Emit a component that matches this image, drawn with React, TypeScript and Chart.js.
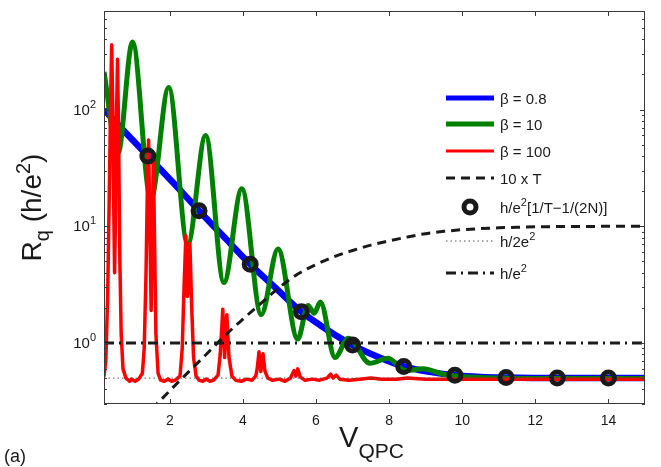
import React, { useEffect, useRef } from "react";
import { Chart, registerables } from "chart.js";

Chart.register(...registerables);

// ---------- data ----------
const X_MIN = 0.2;
const X_MAX = 15;
const Y_MIN = 0.3;
const Y_MAX = 700;

const xTicks = [2, 4, 6, 8, 10, 12, 14];
const yMajorTicks = [1, 10, 100];
const yMajorExp = ["0", "1", "2"];
const yMinorTicks = [0.3, 0.4, 0.5, 0.6, 0.7, 0.8, 0.9, 2, 3, 4, 5, 6, 7, 8, 9, 20, 30, 40, 50, 60, 70, 80, 90, 200, 300, 400, 500, 600];

// beta = 0.8
const blueV = [0.2, 0.8, 1.4, 2.1, 2.8, 3.5, 4.2, 4.9, 5.6, 6.3, 7.0, 7.7, 8.4, 9.1, 9.8, 10.5, 11.2, 12.6, 14.0, 15.0];
const blueR = [100, 63, 40, 23.5, 13.6, 8.0, 4.73, 2.95, 1.85, 1.3, 0.96, 0.76, 0.63, 0.565, 0.53, 0.512, 0.505, 0.5, 0.5, 0.5];

// beta = 10
const greenV = [0.2, 0.58, 0.98, 1.48, 1.97, 2.49, 2.98, 3.48, 3.97, 4.5, 4.96, 5.5, 5.78, 5.95, 6.12, 6.52, 6.88, 7.48, 7.97, 8.44, 8.93, 9.48, 10.2, 11.0, 12.0, 13.0, 14.0, 15.0];
const greenR = [210, 42, 380, 17, 155, 7.0, 60, 3.3, 21, 1.75, 6.4, 1.08, 2.1, 1.8, 2.25, 0.75, 1.1, 0.67, 0.74, 0.58, 0.6, 0.54, 0.51, 0.5, 0.495, 0.495, 0.495, 0.495];

// beta = 100
const redV = [
  0.2, 0.25, 0.3, 0.34, 0.38, 0.41, 0.44, 0.47, 0.49, 0.51, 0.54, 0.57, 0.6, 0.63, 0.67, 0.72, 0.8, 0.9, 0.95, 1.05, 1.15, 1.25,
  1.3, 1.35, 1.39, 1.42, 1.45, 1.49, 1.52, 1.55, 1.58, 1.62, 1.68, 1.75, 1.85, 1.95, 2.05, 2.15, 2.28,
  2.34, 2.39, 2.44, 2.48, 2.51, 2.55, 2.6, 2.65, 2.72, 2.8, 2.9, 3.0, 3.1, 3.2, 3.32,
  3.38, 3.45, 3.5, 3.56, 3.62, 3.7, 3.8, 3.95, 4.1, 4.25, 4.35,
  4.39, 4.44, 4.49, 4.55, 4.6, 4.68, 4.8, 5.0, 5.15, 5.3,
  5.4, 5.45, 5.5, 5.57, 5.7, 5.9, 6.1, 6.3,
  6.4, 6.47, 6.55, 6.65, 6.9, 7.2, 7.5, 7.8, 8.2, 8.5, 9.0, 10.0, 12.0, 15.0,
];
const redR = [
  0.52, 0.7, 2.5, 15, 110, 360, 100, 12, 4, 10, 80, 270, 60, 6, 1.2, 0.6, 0.5, 0.47, 0.49, 0.47, 0.49, 0.55,
  0.9, 4, 25, 55, 12, 1.9, 8, 38, 9, 1.2, 0.55, 0.48, 0.47, 0.49, 0.47, 0.48, 0.52,
  0.9, 3, 8.3, 2.5, 2.8, 7.1, 2, 0.75, 0.52, 0.48, 0.47, 0.49, 0.47, 0.48, 0.53,
  0.8, 1.95, 0.75, 1.75, 0.75, 0.52, 0.48, 0.47, 0.49, 0.48, 0.52,
  0.6, 0.84, 0.57, 0.81, 0.58, 0.5, 0.48, 0.49, 0.47, 0.5,
  0.58, 0.52, 0.6, 0.51, 0.48, 0.49, 0.48, 0.5,
  0.54, 0.5, 0.53, 0.49, 0.48, 0.49, 0.5, 0.49, 0.49, 0.5, 0.49, 0.49, 0.49, 0.49,
];

// 10 x T
const tenTV = [1.5, 2, 2.5, 3, 3.5, 4, 4.5, 5, 5.5, 6, 6.5, 7, 7.5, 8, 8.5, 9, 9.5, 10, 10.5, 11, 11.5, 12, 13, 14, 15];
const tenTR = [0.27, 0.39, 0.56, 0.8, 1.15, 1.6, 2.2, 3.0, 3.9, 4.7, 5.5, 6.2, 6.9, 7.5, 8.1, 8.65, 9.05, 9.35, 9.55, 9.7, 9.82, 9.9, 9.96, 9.99, 10];

// h/e^2[1/T - 1/(2N)] markers
const circleV = [1.4, 2.8, 4.2, 5.6, 7.0, 8.4, 9.8, 11.2, 12.6, 14.0];
const circleR = [40, 13.6, 4.73, 1.85, 0.96, 0.63, 0.53, 0.505, 0.5, 0.5];

// reference levels
const halfLevel = 0.5; // h/2e^2
const fullLevel = 1; // h/e^2

const COLORS = { blue: "#0000ff", green: "#008000", red: "#ff0000", black: "#1a1a1a" };
const FONT = '"Liberation Sans", Arial, Helvetica, sans-serif';

type Seg = { t: string; k?: "sup" | "sub" };

function segsWidth(ctx: CanvasRenderingContext2D, segs: Seg[], size: number, small: number) {
  let w = 0;
  for (const s of segs) {
    ctx.font = `${s.k ? small : size}px ${FONT}`;
    w += ctx.measureText(s.t).width;
  }
  return w;
}

function drawSegs(ctx: CanvasRenderingContext2D, segs: Seg[], x: number, y: number, size: number, small: number, rise: number, drop: number) {
  let cx = x;
  for (const s of segs) {
    ctx.font = `${s.k ? small : size}px ${FONT}`;
    const dy = s.k === "sup" ? -rise : s.k === "sub" ? drop : 0;
    ctx.fillText(s.t, cx, y + dy);
    cx += ctx.measureText(s.t).width;
  }
  return cx;
}

const legendRows: { label: Seg[]; kind: string }[] = [
  { label: [{ t: "β = 0.8" }], kind: "blue" },
  { label: [{ t: "β = 10" }], kind: "green" },
  { label: [{ t: "β = 100" }], kind: "red" },
  { label: [{ t: "10 x T" }], kind: "dash" },
  { label: [{ t: "h/e" }, { t: "2", k: "sup" }, { t: "[1/T−1/(2N)]" }], kind: "circle" },
  { label: [{ t: "h/2e" }, { t: "2", k: "sup" }], kind: "dot" },
  { label: [{ t: "h/e" }, { t: "2", k: "sup" }], kind: "dashdot" },
];
const legendRowY = [98, 124, 151, 178, 207, 241, 273];

const decorPlugin = {
  id: "decor",
  afterDatasetsDraw(chart: any) {
    const { ctx, chartArea: a, scales } = chart;
    const xs = scales.x;
    const ys = scales.y;
    ctx.save();
    ctx.fillStyle = "#1a1a1a";
    ctx.strokeStyle = "#3a3a3a";
    ctx.lineWidth = 1;
    ctx.setLineDash([]);
    // frame
    ctx.strokeRect(a.left + 0.5, a.top + 0.5, a.right - a.left - 1, a.bottom - a.top - 1);
    // ticks
    ctx.beginPath();
    for (const v of xTicks) {
      const px = Math.round(xs.getPixelForValue(v)) + 0.5;
      ctx.moveTo(px, a.bottom);
      ctx.lineTo(px, a.bottom - 5);
      ctx.moveTo(px, a.top);
      ctx.lineTo(px, a.top + 5);
    }
    for (const v of yMajorTicks) {
      const py = Math.round(ys.getPixelForValue(v)) + 0.5;
      ctx.moveTo(a.left, py);
      ctx.lineTo(a.left + 5, py);
      ctx.moveTo(a.right, py);
      ctx.lineTo(a.right - 5, py);
    }
    for (const v of yMinorTicks) {
      const py = Math.round(ys.getPixelForValue(v)) + 0.5;
      ctx.moveTo(a.left, py);
      ctx.lineTo(a.left + 3, py);
      ctx.moveTo(a.right, py);
      ctx.lineTo(a.right - 3, py);
    }
    ctx.stroke();

    // x tick labels
    ctx.textBaseline = "alphabetic";
    ctx.textAlign = "center";
    ctx.font = `14px ${FONT}`;
    for (const v of xTicks) {
      ctx.fillText(String(v), xs.getPixelForValue(v), a.bottom + 21);
    }
    // y tick labels
    ctx.textAlign = "left";
    yMajorTicks.forEach((v, i) => {
      const py = ys.getPixelForValue(v);
      const segs: Seg[] = [{ t: "10" }, { t: yMajorExp[i], k: "sup" }];
      const w = segsWidth(ctx, segs, 15, 11);
      drawSegs(ctx, segs, a.left - 8 - w, py + 5, 15, 11, 7, 0);
    });

    // y title
    ctx.save();
    ctx.translate(41, (a.top + a.bottom) / 2);
    ctx.rotate(-Math.PI / 2);
    const yt: Seg[] = [{ t: "R" }, { t: "q", k: "sub" }, { t: " (h/e" }, { t: "2", k: "sup" }, { t: ")" }];
    const ytw = segsWidth(ctx, yt, 28, 20);
    drawSegs(ctx, yt, -ytw / 2, 0, 28, 20, 11, 8);
    ctx.restore();

    // x title
    const xt: Seg[] = [{ t: "V" }, { t: "QPC", k: "sub" }];
    const xtw = segsWidth(ctx, xt, 29, 21);
    drawSegs(ctx, xt, (a.left + a.right) / 2 - xtw / 2 - 3, 447, 29, 21, 0, 11);

    // panel label
    ctx.font = `18px ${FONT}`;
    ctx.fillText("(a)", 4, 462);

    // legend
    const lx0 = 446;
    const lx1 = 494;
    legendRows.forEach((row, i) => {
      const y = legendRowY[i];
      ctx.save();
      ctx.lineCap = "butt";
      ctx.beginPath();
      if (row.kind === "blue" || row.kind === "green" || row.kind === "red") {
        ctx.strokeStyle = (COLORS as any)[row.kind];
        ctx.lineWidth = row.kind === "red" ? 3 : 5;
        ctx.moveTo(lx0, y);
        ctx.lineTo(lx1, y);
        ctx.stroke();
      } else if (row.kind === "dash") {
        ctx.strokeStyle = COLORS.black;
        ctx.lineWidth = 3;
        ctx.setLineDash([9, 6]);
        ctx.moveTo(lx0, y);
        ctx.lineTo(lx1, y);
        ctx.stroke();
      } else if (row.kind === "dot") {
        ctx.strokeStyle = "#555";
        ctx.lineWidth = 1;
        ctx.setLineDash([1.5, 3]);
        ctx.moveTo(lx0, y);
        ctx.lineTo(lx1, y);
        ctx.stroke();
      } else if (row.kind === "dashdot") {
        ctx.strokeStyle = COLORS.black;
        ctx.lineWidth = 3;
        ctx.setLineDash([10, 5, 2, 5]);
        ctx.moveTo(lx0, y);
        ctx.lineTo(lx1, y);
        ctx.stroke();
      } else if (row.kind === "circle") {
        ctx.strokeStyle = COLORS.black;
        ctx.lineWidth = 5;
        ctx.arc((lx0 + lx1) / 2, y, 6, 0, Math.PI * 2);
        ctx.stroke();
      }
      ctx.restore();
      ctx.fillStyle = "#1a1a1a";
      ctx.textAlign = "left";
      drawSegs(ctx, row.label, 500, y + 6, 15, 11, 7, 0);
    });
    ctx.restore();
  },
};

function pts(xs: number[], ys: number[]) {
  return xs.map((x, i) => ({ x, y: ys[i] }));
}

export default function App() {
  const ref = useRef<HTMLCanvasElement | null>(null);
  useEffect(() => {
    if (!ref.current) return;
    const datasets: any[] = [
      {
        label: "h/e^2",
        data: pts([X_MIN, X_MAX], [fullLevel, fullLevel]),
        borderColor: COLORS.black,
        borderWidth: 3,
        borderDash: [10, 5, 2, 5],
        pointRadius: 0,
        clip: 0,
      },
      {
        label: "10 x T",
        data: pts(tenTV, tenTR),
        borderColor: COLORS.black,
        borderWidth: 3,
        borderDash: [9, 6],
        pointRadius: 0,
        cubicInterpolationMode: "monotone",
        clip: 0,
      },
      {
        label: "circles",
        data: pts(circleV, circleR),
        showLine: false,
        pointRadius: 6,
        pointBorderWidth: 5,
        pointBorderColor: COLORS.black,
        pointBackgroundColor: "rgba(0,0,0,0)",
        clip: 0,
      },
      {
        label: "h/2e^2",
        data: pts([X_MIN, X_MAX], [halfLevel, halfLevel]),
        borderColor: "#555",
        borderWidth: 1,
        borderDash: [1.5, 3],
        pointRadius: 0,
        clip: 0,
      },
      {
        label: "beta = 100",
        data: pts(redV, redR),
        borderColor: COLORS.red,
        borderWidth: 3.5,
        borderJoinStyle: "round",
        borderCapStyle: "round",
        pointRadius: 0,
        tension: 0,
        clip: 0,
      },
      {
        label: "beta = 10",
        data: pts(greenV, greenR),
        borderColor: COLORS.green,
        borderWidth: 5,
        pointRadius: 0,
        cubicInterpolationMode: "monotone",
        clip: 0,
      },
      {
        label: "beta = 0.8",
        data: pts(blueV, blueR),
        borderColor: COLORS.blue,
        borderWidth: 6.5,
        pointRadius: 0,
        cubicInterpolationMode: "monotone",
        clip: 0,
      },
    ];
    const chart = new Chart(ref.current, {
      type: "line",
      data: { datasets },
      options: {
        animation: false,
        responsive: false,
        devicePixelRatio: 1,
        events: [],
        layout: { padding: { left: 104, right: 16, top: 2, bottom: 63 } },
        plugins: { legend: { display: false }, tooltip: { enabled: false } },
        scales: {
          x: { type: "linear", min: X_MIN, max: X_MAX, display: false, bounds: "data" },
          y: { type: "logarithmic", min: Y_MIN, max: Y_MAX, display: false, bounds: "data" },
        },
      } as any,
      plugins: [decorPlugin],
    });
    return () => chart.destroy();
  }, []);
  return (
    <div style={{ position: "fixed", left: 0, top: 0, width: 661, height: 467, background: "#fff" }}>
      <canvas ref={ref} width={661} height={467} style={{ display: "block", width: 661, height: 467 }} />
    </div>
  );
}
